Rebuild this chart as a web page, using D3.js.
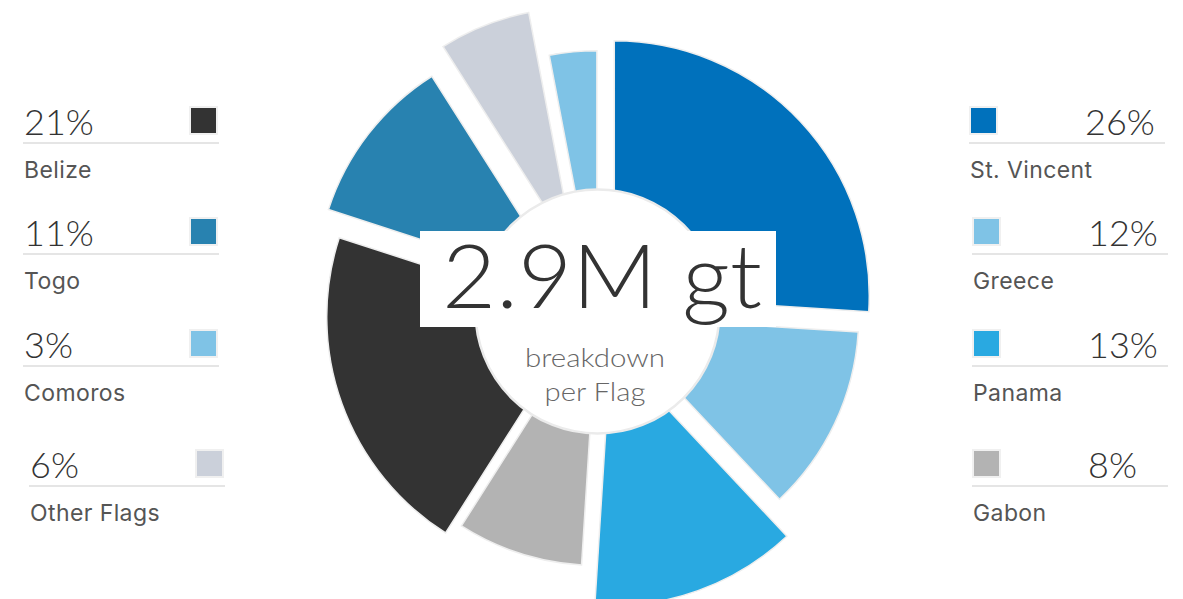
<!DOCTYPE html>
<html>
<head>
<meta charset="utf-8">
<script src="https://cdn.jsdelivr.net/npm/d3@7"></script>
<style>
  html, body { margin: 0; padding: 0; background: #fff; }
  svg { display: block; }
  text { font-family: Inter, "Open Sans", "Noto Sans", sans-serif; }
  .light { font-family: Lato, "Open Sans", Inter, sans-serif; font-weight: 300; }
</style>
</head>
<body>
<svg id="chart" width="1183" height="599"></svg>
<script>
// ---- data ----
const flags   = ["St. Vincent", "Greece", "Panama", "Gabon", "Belize", "Togo", "Other Flags", "Comoros"];
const shares  = [26, 12, 13, 8, 21, 11, 6, 3];
const colors  = ["#0071bc", "#7fc3e6", "#29a9e1", "#b3b3b3", "#333333", "#2882b0", "#cbd0da", "#7fc3e6"];
const totalLabel = "2.9M gt";
const subLabel = ["breakdown", "per Flag"];
const leftLegend  = ["Belize", "Togo", "Comoros", "Other Flags"];
const rightLegend = ["St. Vincent", "Greece", "Panama", "Gabon"];

// ---- layout (styling only) ----
const cx = 597.5, cy = 311.5, innerR = 122;
const outerR  = [255, 251, 257, 254, 256, 249, 246, 254];
const explode = [23, 11.3, 39.7, 0, 15.7, 40.8, 61.6, 6.7];
const leftRows  = [{x: 23, y: 143}, {x: 23, y: 254}, {x: 23, y: 366}, {x: 29, y: 486}];
const rightRows = [{x: 969, y: 143}, {x: 972, y: 254}, {x: 972, y: 366}, {x: 972, y: 486}];
const subWidths = [140, 101];

const svg = d3.select("#chart");
const data = flags.map((f, i) => ({flag: f, value: shares[i], color: colors[i], r: outerR[i], ex: explode[i]}));

const pie = d3.pie().sort(null).value(d => d.value);
const arcs = pie(data);

const g = svg.append("g").attr("transform", `translate(${cx},${cy})`);
g.selectAll("path.slice")
  .data(arcs)
  .join("path")
  .attr("class", "slice")
  .attr("d", d => d3.arc().innerRadius(0).outerRadius(d.data.r)(d))
  .attr("transform", d => {
    const a = (d.startAngle + d.endAngle) / 2;
    return `translate(${Math.sin(a) * d.data.ex},${-Math.cos(a) * d.data.ex})`;
  })
  .attr("fill", d => d.data.color)
  .attr("stroke", "#eeeeee")
  .attr("stroke-width", 1.5);

// center circle
g.append("circle").attr("r", innerR).attr("fill", "#fff").attr("stroke", "#ebebeb").attr("stroke-width", 2.5);

// total label box
svg.append("rect").attr("x", 420).attr("y", 231).attr("width", 356).attr("height", 96).attr("fill", "#fff");
svg.append("text")
  .attr("class", "light")
  .attr("x", 602).attr("y", 308)
  .attr("text-anchor", "middle")
  .attr("font-size", 88)
  .attr("fill", "#333")
  .attr("textLength", 320).attr("lengthAdjust", "spacingAndGlyphs")
  .text(totalLabel);

svg.selectAll("text.sub")
  .data(subLabel)
  .join("text")
  .attr("class", "sub light")
  .attr("x", 595).attr("y", (d, i) => 367 + i * 33.5)
  .attr("text-anchor", "middle")
  .attr("font-size", 25)
  .attr("fill", "#666")
  .attr("textLength", (d, i) => subWidths[i]).attr("lengthAdjust", "spacingAndGlyphs")
  .text(d => d);

const byFlag = new Map(data.map(d => [d.flag, d]));

function legend(names, rows, side) {
  names.forEach((name, i) => {
    const d = byFlag.get(name);
    const row = rows[i];
    const lg = svg.append("g").attr("transform", `translate(${row.x},${row.y})`);
    lg.append("line").attr("x1", 0).attr("x2", 196).attr("y1", 0).attr("y2", 0)
      .attr("stroke", "#dcdcdc").attr("stroke-width", 1.5);
    const sqX = side === "left" ? 167 : 1;
    lg.append("rect").attr("x", sqX).attr("y", -36).attr("width", 27).attr("height", 27)
      .attr("fill", d.color).attr("stroke", "#f0f0f0").attr("stroke-width", 2);
    lg.append("text")
      .attr("class", "light")
      .attr("x", side === "left" ? 1 : 116).attr("y", -8)
      .attr("font-size", 36).attr("fill", "#333")
      .text(d.value + "%");
    lg.append("text")
      .attr("x", 1).attr("y", 35)
      .attr("font-size", 23).attr("font-weight", 400).attr("fill", "#555")
      .attr("letter-spacing", 0.4)
      .text(name);
  });
}
legend(leftLegend, leftRows, "left");
legend(rightLegend, rightRows, "right");
</script>
</body>
</html>
